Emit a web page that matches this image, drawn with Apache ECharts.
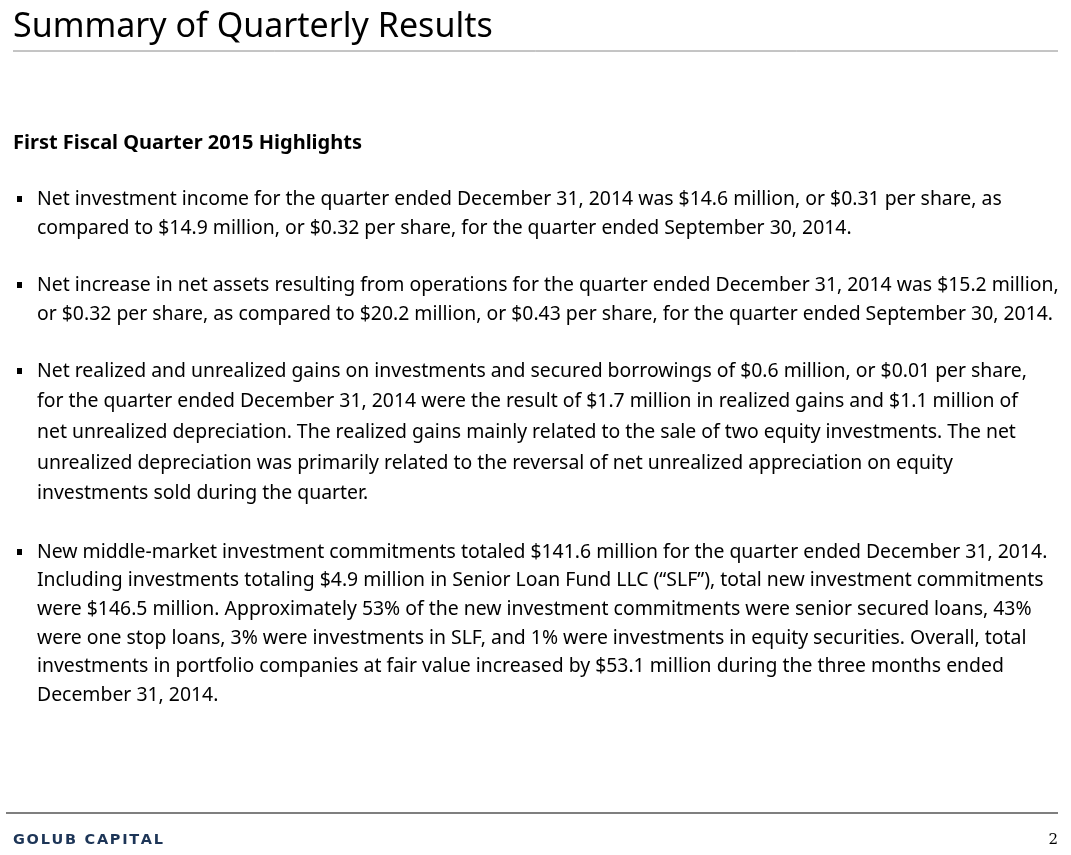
<!DOCTYPE html>
<html>
<head>
<meta charset="utf-8">
<script src="https://cdn.jsdelivr.net/npm/echarts@6/dist/echarts.min.js"></script>
<style>
  html, body { margin: 0; padding: 0; background: #fff; }
  #main { width: 1071px; height: 855px; }
</style>
</head>
<body>
<div id="main"></div>
<script>
var title = 'Summary of Quarterly Results';
var subtitle = 'First Fiscal Quarter 2015 Highlights';
var footerBrand = 'GOLUB CAPITAL';
var pageNumber = '2';

// each bullet kept as its wrapped lines, as on the slide
var bullet1 = [
  'Net investment income for the quarter ended December 31, 2014 was $14.6 million, or $0.31 per share, as',
  'compared to $14.9 million, or $0.32 per share, for the quarter ended September 30, 2014.'
];
var bullet2 = [
  'Net increase in net assets resulting from operations for the quarter ended December 31, 2014 was $15.2 million,',
  'or $0.32 per share, as compared to $20.2 million, or $0.43 per share, for the quarter ended September 30, 2014.'
];
var bullet3 = [
  'Net realized and unrealized gains on investments and secured borrowings of $0.6 million, or $0.01 per share,',
  'for the quarter ended December 31, 2014 were the result of $1.7 million in realized gains and $1.1 million of',
  'net unrealized depreciation. The realized gains mainly related to the sale of two equity investments. The net',
  'unrealized depreciation was primarily related to the reversal of net unrealized appreciation on equity',
  'investments sold during the quarter.'
];
var bullet4 = [
  'New middle-market investment commitments totaled $141.6 million for the quarter ended December 31, 2014.',
  'Including investments totaling $4.9 million in Senior Loan Fund LLC (\u201CSLF\u201D), total new investment commitments',
  'were $146.5 million. Approximately 53% of the new investment commitments were senior secured loans, 43%',
  'were one stop loans, 3% were investments in SLF, and 1% were investments in equity securities. Overall, total',
  'investments in portfolio companies at fair value increased by $53.1 million during the three months ended',
  'December 31, 2014.'
];

var bullets = [bullet1, bullet2, bullet3, bullet4];
// first-line y and line spacing per bullet
var bulletLayout = [
  { y: 199, lh: 29 },
  { y: 285, lh: 29 },
  { y: 371, lh: 30.7 },
  { y: 552, lh: 28.7 }
];

var FONT = '"Noto Sans", "Open Sans", sans-serif';
var elements = [];

elements.push({
  type: 'text', x: 13, y: 27,
  style: { text: title, font: '34px ' + FONT, fill: '#000', verticalAlign: 'middle' }
});
elements.push({
  type: 'line',
  shape: { x1: 13, y1: 51, x2: 1058, y2: 51 },
  style: { stroke: '#8a8a8a', lineWidth: 1 }
});
elements.push({
  type: 'text', x: 13, y: 143,
  style: { text: subtitle, font: 'bold 20px ' + FONT, fill: '#000', verticalAlign: 'middle' }
});

bullets.forEach(function (lines, i) {
  var lay = bulletLayout[i];
  elements.push({
    type: 'rect',
    shape: { x: 17, y: lay.y - 3, width: 5, height: 6 },
    style: { fill: '#000' }
  });
  lines.forEach(function (line, j) {
    elements.push({
      type: 'text', x: 37, y: lay.y + j * lay.lh,
      style: { text: line, font: '19.4px ' + FONT, fill: '#000', verticalAlign: 'middle' }
    });
  });
});

elements.push({
  type: 'line',
  shape: { x1: 6, y1: 813, x2: 1058, y2: 813 },
  style: { stroke: '#7f7f7f', lineWidth: 2 }
});

// brand letters spaced out to the logo's width
var brandFont = 'bold 14.5px "DejaVu Sans", sans-serif';
var ctx = document.createElement('canvas').getContext('2d');
ctx.font = brandFont;
var bx = 13;
footerBrand.split('').forEach(function (ch) {
  elements.push({
    type: 'text', x: bx, y: 840,
    style: { text: ch, font: brandFont, fill: '#1d3557', verticalAlign: 'middle' }
  });
  bx += ctx.measureText(ch).width + 1.7;
});

elements.push({
  type: 'text', x: 1058, y: 840,
  style: { text: pageNumber, font: '15px "DejaVu Serif", serif', fill: '#000', align: 'right', verticalAlign: 'middle' }
});

var chart = echarts.init(document.getElementById('main'), null, { renderer: 'canvas', width: 1071, height: 855 });
chart.setOption({
  backgroundColor: '#fff',
  animation: false,
  graphic: { elements: elements }
});
</script>
</body>
</html>
